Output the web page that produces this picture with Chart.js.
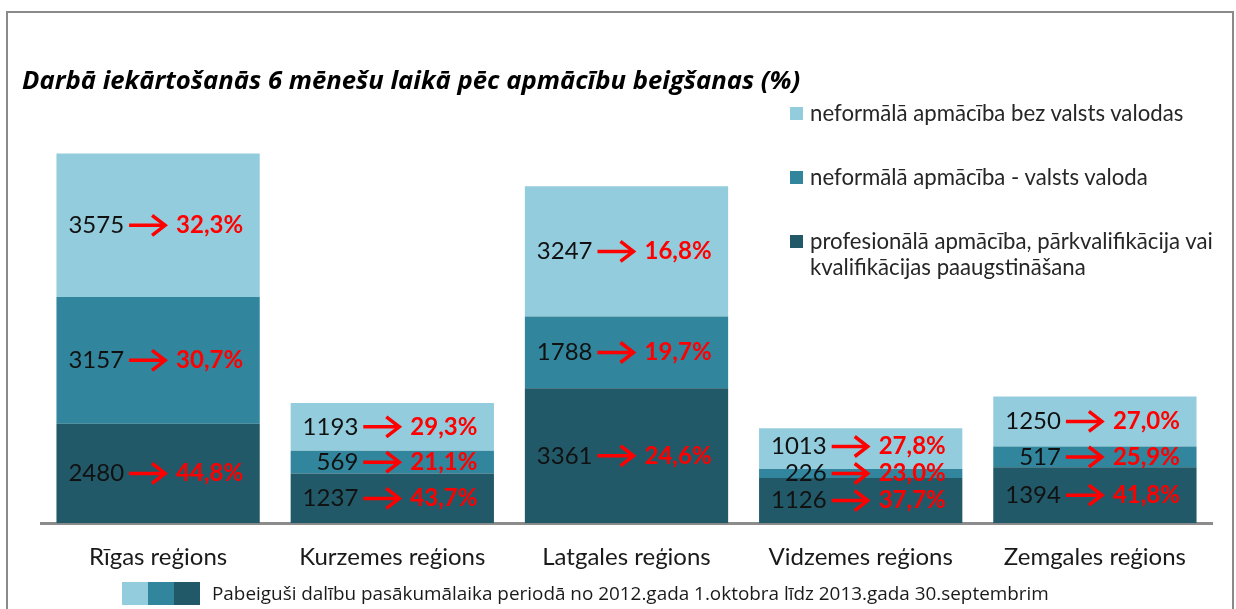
<!DOCTYPE html>
<html>
<head>
<meta charset="utf-8">
<script src="https://cdn.jsdelivr.net/npm/chart.js@4"></script>
<style>
  html, body { margin: 0; padding: 0; background: #fff; overflow: hidden; }
  #wrap { position: relative; width: 1236px; height: 609px; }
  #frame { position: absolute; left: 6px; top: 11px; width: 1228px; height: 620px; border: 2px solid #8a8a8a; box-sizing: border-box; }
  #chart { position: absolute; left: 0; top: 0; }
  #title { position: absolute; left: 22px; top: 62px; font: italic bold 25.7px "Open Sans", sans-serif; color: #000; white-space: nowrap; }
  #legend { position: absolute; left: 790px; top: 100px; font: 22.2px Lato, sans-serif; color: #262626; }
  .row { position: absolute; left: 0; white-space: nowrap; line-height: 26px; }
  .row .sw { position: absolute; left: 0; top: 7px; width: 13px; height: 13px; }
  .row .tx { position: absolute; left: 20px; top: 0; }
  #foot { position: absolute; left: 122px; top: 582px; height: 23px; white-space: nowrap; }
  #foot .sw { display: inline-block; width: 26px; height: 23px; vertical-align: top; }
  #foot .tx { display: inline-block; margin-left: 12px; font: 18.9px "Open Sans", sans-serif; color: #1a1a1a; line-height: 23px; vertical-align: top; }
</style>
</head>
<body>
<div id="wrap">
  <div id="frame"></div>
  <canvas id="chart" width="1236" height="609"></canvas>
  <div id="title"></div>
  <div id="legend"></div>
  <div id="foot"></div>
</div>
<script>
  'use strict';

  var TITLE = 'Darbā iekārtošanās 6 mēnešu laikā pēc apmācību beigšanas (%)';
  var FOOT_NOTE = 'Pabeiguši dalību pasākumālaika periodā no 2012.gada 1.oktobra līdz 2013.gada 30.septembrim';

  var categories = ['Rīgas reģions', 'Kurzemes reģions', 'Latgales reģions', 'Vidzemes reģions', 'Zemgales reģions'];

  // skaits (bar heights)
  var profesionala = [2480, 1237, 3361, 1126, 1394];
  var arValodu = [3157, 569, 1788, 226, 517];
  var bezValodas = [3575, 1193, 3247, 1013, 1250];

  // iekārtošanās % (shown next to arrows)
  var profPct = [44.8, 43.7, 24.6, 37.7, 41.8];
  var arValoduPct = [30.7, 21.1, 19.7, 23.0, 25.9];
  var bezValodasPct = [32.3, 29.3, 16.8, 27.8, 27.0];

  var seriesNames = [
    'profesionālā apmācība, pārkvalifikācija vai kvalifikācijas paaugstināšana',
    'neformālā apmācība - valsts valoda',
    'neformālā apmācība bez valsts valodas'
  ];
  var colors = ['#215968', '#31859c', '#93cddd'];

  document.getElementById('title').textContent = TITLE;

  // right legend (top series first)
  var legend = document.getElementById('legend');
  var legendRows = [
    { i: 2, top: 0, html: seriesNames[2] },
    { i: 1, top: 64, html: seriesNames[1] },
    { i: 0, top: 128, html: 'profesionālā apmācība, pārkvalifikācija vai<br>kvalifikācijas paaugstināšana' }
  ];
  legendRows.forEach(function (r) {
    var d = document.createElement('div');
    d.className = 'row';
    d.style.top = r.top + 'px';
    d.innerHTML = '<span class="sw" style="background:' + colors[r.i] + '"></span><span class="tx">' + r.html + '</span>';
    legend.appendChild(d);
  });

  var foot = document.getElementById('foot');
  foot.innerHTML = '<span class="sw" style="background:' + colors[2] + '"></span>' +
    '<span class="sw" style="background:' + colors[1] + '"></span>' +
    '<span class="sw" style="background:' + colors[0] + '"></span>' +
    '<span class="tx"></span>';
  foot.querySelector('.tx').textContent = FOOT_NOTE;

  function fmtPct(v) {
    return v.toFixed(1).replace('.', ',') + '%';
  }

  var pctSets = [profPct, arValoduPct, bezValodasPct];

  var arrowLabels = {
    id: 'arrowLabels',
    afterDatasetsDraw: function (chart) {
      var ctx = chart.ctx;
      var n = categories.length;
      for (var c = 0; c < n; c++) {
        // segment centres, then push labels apart so they don't overlap
        var ys = [];
        var xc = 0;
        for (var d = 0; d < 3; d++) {
          var bar = chart.getDatasetMeta(d).data[c];
          xc = bar.x;
          ys.push((bar.y + bar.base) / 2);
        }
        var gap = 27;
        for (var k = 1; k < 3; k++) {
          if (ys[k] > ys[k - 1] - gap) ys[k] = ys[k - 1] - gap;
        }
        for (var s = 0; s < 3; s++) {
          var y = ys[s];
          var val = chart.data.datasets[s].data[c];
          ctx.save();
          ctx.textBaseline = 'middle';
          ctx.font = '24px Lato, sans-serif';
          ctx.fillStyle = '#111';
          ctx.textAlign = 'right';
          ctx.fillText(String(val), xc - 34, y);

          // arrow
          var x0 = xc - 29, x1 = xc + 7;
          ctx.strokeStyle = '#ff0000';
          ctx.lineWidth = 3.5;
          ctx.lineCap = 'butt';
          ctx.beginPath();
          ctx.moveTo(x0, y);
          ctx.lineTo(x1 - 1, y);
          ctx.stroke();
          ctx.beginPath();
          ctx.moveTo(x1 - 13, y - 10);
          ctx.lineTo(x1, y);
          ctx.lineTo(x1 - 13, y + 10);
          ctx.stroke();

          ctx.font = 'bold 24px Lato, sans-serif';
          ctx.fillStyle = '#ff0000';
          ctx.textAlign = 'left';
          ctx.fillText(fmtPct(pctSets[s][c]), xc + 18, y);
          ctx.restore();
        }
      }
    }
  };

  new Chart(document.getElementById('chart'), {
    type: 'bar',
    data: {
      labels: categories,
      datasets: [
        { label: seriesNames[0], data: profesionala, backgroundColor: colors[0] },
        { label: seriesNames[1], data: arValodu, backgroundColor: colors[1] },
        { label: seriesNames[2], data: bezValodas, backgroundColor: colors[2] }
      ]
    },
    options: {
      responsive: false,
      animation: false,
      layout: { padding: { left: 41, right: 24, top: 122, bottom: 17 } },
      datasets: { bar: { categoryPercentage: 1, barPercentage: 0.868 } },
      scales: {
        x: {
          stacked: true,
          grid: { display: false, drawTicks: false },
          border: { display: true, color: '#8c8c8c', width: 3 },
          ticks: {
            color: '#1a1a1a',
            padding: 20,
            font: { family: 'Lato, sans-serif', size: 24 }
          }
        },
        y: {
          stacked: true,
          display: false,
          min: 0,
          max: 10000
        }
      },
      plugins: {
        legend: { display: false },
        tooltip: { enabled: false }
      }
    },
    plugins: [arrowLabels]
  });
</script>
</body>
</html>
